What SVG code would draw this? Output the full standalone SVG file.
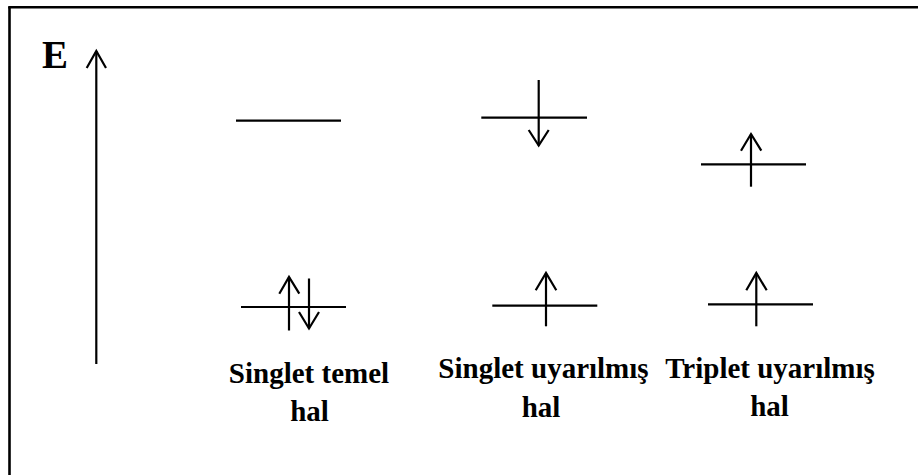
<svg xmlns="http://www.w3.org/2000/svg" width="918" height="475" viewBox="0 0 918 475">
<style>
.ln{stroke:#000;stroke-width:2.2;fill:none}
.hd{stroke:#000;stroke-width:2.2;fill:none;stroke-linejoin:miter}
.t{font-family:"Liberation Serif","Times New Roman",serif;font-weight:bold;font-size:29px;fill:#000;text-anchor:middle}
</style>
<rect width="918" height="475" fill="#fff"/>
<g id="frame">
<line class="ln" x1="9.5" y1="7" x2="9.5" y2="475" style="stroke-width:2.6"/>
<line class="ln" x1="8.2" y1="7.3" x2="918" y2="7.3" style="stroke-width:2.6"/>
</g>
<g id="axis">
<text x="55" y="67.5" style="font-family:'Liberation Serif','Times New Roman',serif;font-weight:bold;font-size:39px;text-anchor:middle">E</text>
<line class="ln" x1="96.3" y1="51" x2="96.3" y2="364"/>
<polyline class="hd" points="86.7,68 96.3,51 106,68"/>
</g>
<g id="singlet-ground">
<line class="ln" x1="236" y1="120.7" x2="341" y2="120.7"/>
<line class="ln" x1="241" y1="307" x2="346" y2="307"/>
<line class="ln" x1="289" y1="330.5" x2="289" y2="277"/>
<polyline class="hd" points="279.3,293.7 289,277 299.3,293.7"/>
<line class="ln" x1="309" y1="278.5" x2="309" y2="328.5"/>
<polyline class="hd" points="299,312 309,328.5 319,312"/>
<text class="t" x="309" y="383.3">Singlet temel</text>
<text class="t" x="309.5" y="421">hal</text>
</g>
<g id="singlet-excited">
<line class="ln" x1="481.3" y1="117.7" x2="587" y2="117.7"/>
<line class="ln" x1="538.7" y1="80" x2="538.7" y2="145.5"/>
<polyline class="hd" points="528.7,130 538.7,145.5 548.7,130"/>
<line class="ln" x1="492.3" y1="305.7" x2="597.3" y2="305.7"/>
<line class="ln" x1="546" y1="326.3" x2="546" y2="273"/>
<polyline class="hd" points="535.7,290.3 546,273 556.3,290.3"/>
<text class="t" x="543.5" y="378.3">Singlet uyarılmış</text>
<text class="t" x="541" y="416.7">hal</text>
</g>
<g id="triplet-excited">
<line class="ln" x1="701" y1="164.3" x2="806" y2="164.3"/>
<line class="ln" x1="751" y1="186.7" x2="751" y2="134"/>
<polyline class="hd" points="741,150.7 751,134 761.3,150.7"/>
<line class="ln" x1="708" y1="304.3" x2="813" y2="304.3"/>
<line class="ln" x1="756.3" y1="326.3" x2="756.3" y2="273"/>
<polyline class="hd" points="746.3,290.3 756.3,273 766.7,290.3"/>
<text class="t" x="770" y="378.3">Triplet uyarılmış</text>
<text class="t" x="769.5" y="416">hal</text>
</g>
</svg>
